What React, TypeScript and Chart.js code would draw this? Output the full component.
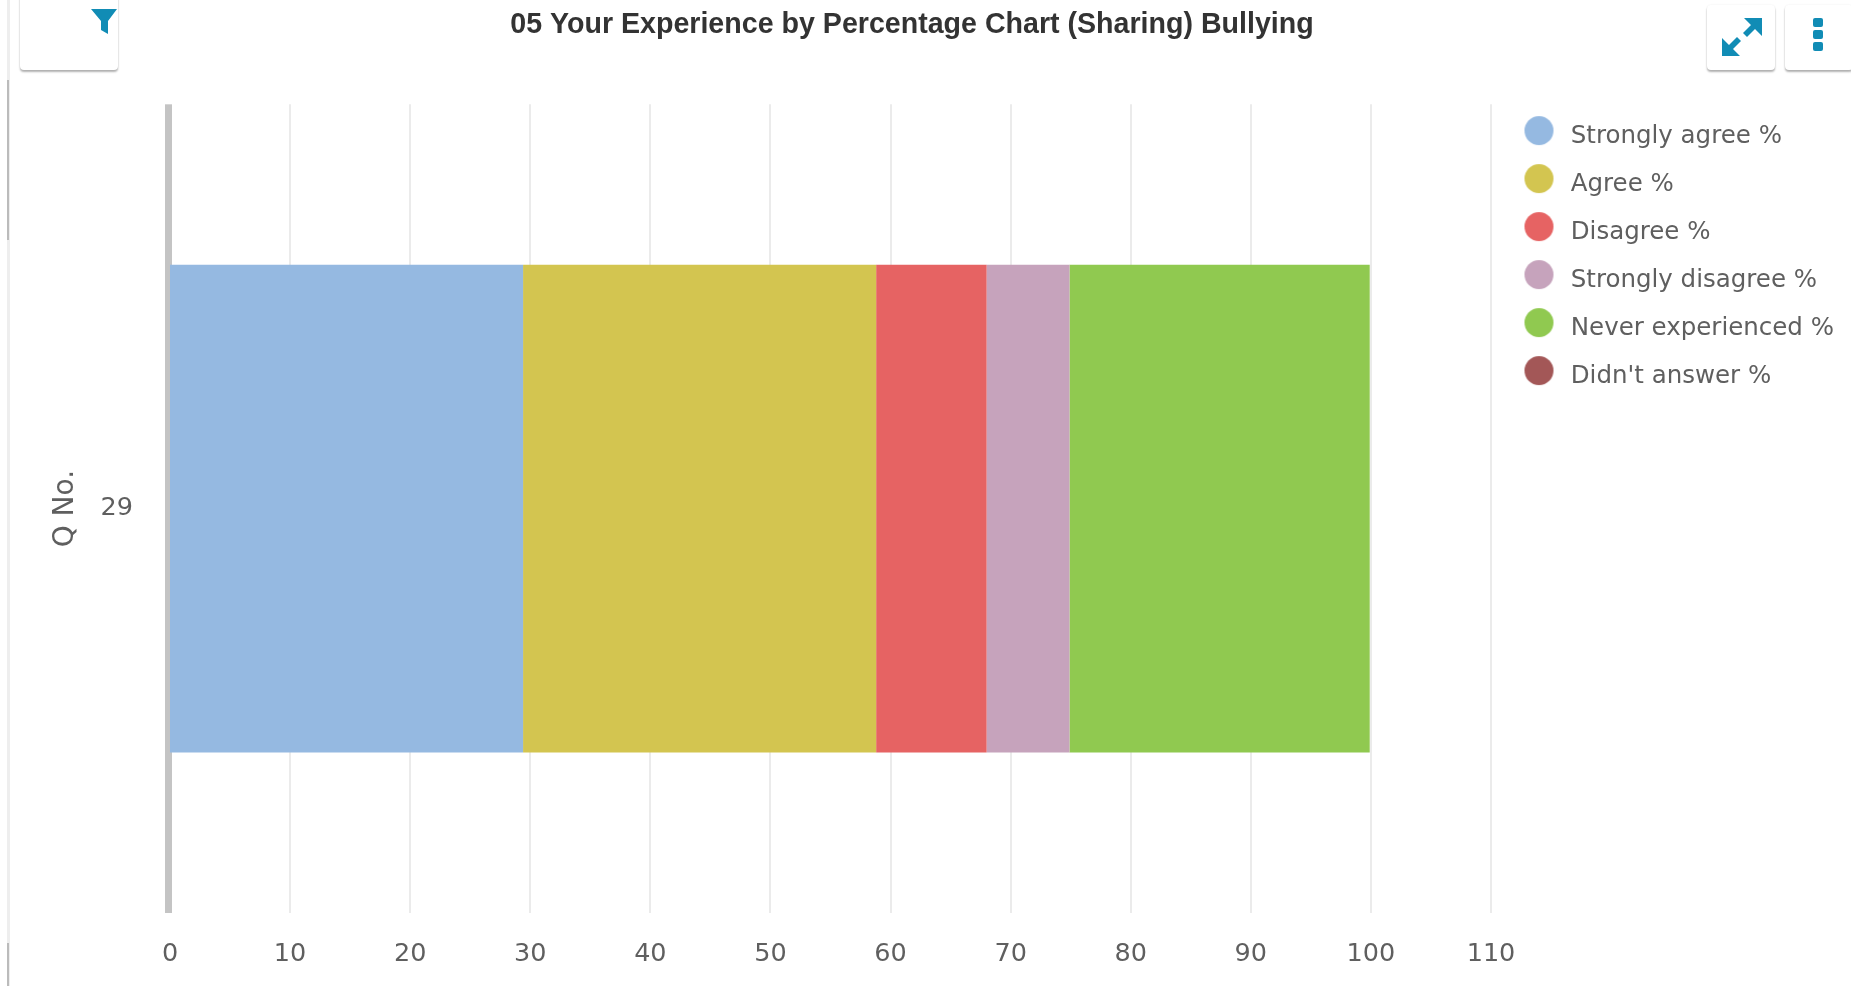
import React, { useEffect, useRef } from "react";
import { Chart, registerables } from "chart.js";

Chart.register(...registerables);

const chartTitle = "05 Your Experience by Percentage Chart (Sharing) Bullying";
const categories = ["29"];
const seriesNames = ["Strongly agree %", "Agree %", "Disagree %", "Strongly disagree %", "Never experienced %", "Didn't answer %"];
const seriesColors = ["#95b9e1", "#d3c550", "#e66363", "#c6a3bc", "#90c950", "#a35757"];
const stronglyAgree = [29.4];
const agree = [29.4];
const disagree = [9.2];
const stronglyDisagree = [6.9];
const neverExperienced = [25.0];
const didntAnswer = [0];
const seriesValues = [stronglyAgree, agree, disagree, stronglyDisagree, neverExperienced, didntAnswer];

const UI_FONT = "'DejaVu Sans'";
const TEXT = "#5f5f5f";
const AXIS_GRAY = "#c4c4c4";
const GRID_GRAY = "#ebebeb";

function marker(color: string) {
  const c = document.createElement("canvas");
  c.width = 60;
  c.height = 60;
  const g = c.getContext("2d")!;
  g.fillStyle = color;
  g.beginPath();
  g.arc(22.5, 23.5, 14.5, 0, Math.PI * 2);
  g.fill();
  return c;
}

const legendPlacer = {
  id: "legendPlacer",
  afterLayout(chart: any) {
    const l = chart.legend;
    if (!l) return;
    const w = l.right - l.left;
    l.left = 1511;
    l.right = l.left + w + 40;
    l.top = chart.chartArea.top - 3;
  },
};

// The thick axis line at value 0, under the bars (a wide grid line would push the bars' base to the right).
const zeroAxis = {
  id: "zeroAxis",
  beforeDatasetsDraw(chart: any) {
    const { ctx, chartArea, scales } = chart;
    const x0 = scales.x.getPixelForValue(0);
    ctx.save();
    ctx.fillStyle = AXIS_GRAY;
    ctx.fillRect(x0 - 5, chartArea.top, 7, chartArea.bottom - chartArea.top);
    ctx.restore();
  },
};

const btn: React.CSSProperties = {
  position: "absolute",
  background: "#fff",
  borderRadius: 4,
  boxShadow: "0 2px 2px rgba(0,0,0,0.3), 0 0 2px rgba(0,0,0,0.08)",
};

export default function App() {
  const ref = useRef<HTMLCanvasElement>(null);
  useEffect(() => {
    const markers = seriesColors.map(marker);
    const chart = new Chart(ref.current!, {
      type: "bar",
      plugins: [legendPlacer, zeroAxis],
      data: {
        labels: categories,
        datasets: seriesNames.map((name, i) => ({
          label: name,
          data: seriesValues[i],
          backgroundColor: seriesColors[i],
          borderWidth: 0,
          barPercentage: 0.603,
          categoryPercentage: 1,
        })),
      },
      options: {
        indexAxis: "y",
        responsive: false,
        animation: false,
        layout: { padding: { left: 0, right: 27, top: 0, bottom: 0 } },
        plugins: {
          tooltip: { enabled: false },
          title: {
            display: true,
            text: chartTitle,
            color: "#333333",
            font: { family: "'Liberation Sans'", size: 28.6, weight: "bold" },
            padding: { top: 8, bottom: 62 },
          },
          legend: {
            position: "right",
            align: "start",
            labels: {
              usePointStyle: true,
              boxHeight: 24,
              boxWidth: 24,
              padding: 23.5,
              color: TEXT,
              font: { family: UI_FONT, size: 24.5 },
              generateLabels: () =>
                seriesNames.map((name, i) => ({
                  text: name,
                  fontColor: TEXT,
                  fillStyle: seriesColors[i],
                  strokeStyle: seriesColors[i],
                  lineWidth: 0,
                  pointStyle: markers[i],
                  datasetIndex: i,
                })),
            },
          },
        },
        scales: {
          x: {
            stacked: true,
            min: 0,
            max: 110,
            afterFit: (s: any) => { s.height = 73; },
            grid: {
              color: GRID_GRAY,
              lineWidth: (c: any) => (c.tick && c.tick.value === 0 ? 0 : 2),
              drawTicks: false,
            },
            border: { display: false },
            ticks: {
              stepSize: 10,
              color: TEXT,
              padding: 26,
              maxRotation: 0,
              font: { family: UI_FONT, size: 25.5 },
            },
          },
          y: {
            stacked: true,
            afterFit: (s: any) => { s.width = 170; },
            grid: { display: false, drawTicks: false },
            border: { display: false },
            ticks: {
              color: TEXT,
              padding: 37,
              font: { family: UI_FONT, size: 25.5 },
            },
            title: {
              display: true,
              text: "Q No.",
              color: TEXT,
              font: { family: UI_FONT, size: 28 },
              padding: { top: 49, bottom: 0 },
            },
          },
        },
      },
    } as any);
    return () => chart.destroy();
  }, []);

  return (
    <div style={{ position: "fixed", inset: 0, overflow: "hidden", background: "#fff" }}>
      <canvas ref={ref} width={1851} height={986} style={{ position: "absolute", left: 0, top: 0, display: "block" }} />
      <div style={{ position: "absolute", left: 7, top: 0, width: 3, height: 986, background: "#eeeeee" }} />
      <div style={{ position: "absolute", left: 7, top: 80, width: 2, height: 160, background: "#bbbbbb" }} />
      <div style={{ position: "absolute", left: 7, top: 943, width: 2, height: 43, background: "#bbbbbb" }} />
      <div style={{ ...btn, left: 20, top: -10, width: 98, height: 80 }} />
      <svg style={{ position: "absolute", left: 90, top: 8 }} width="28" height="28" viewBox="0 0 28 28">
        <path d="M1 1 H27 L18 13 V26 L11 22 V13 Z" fill="#118cb5" />
      </svg>
      <div style={{ ...btn, left: 1707, top: 5, width: 68, height: 65 }} />
      <svg style={{ position: "absolute", left: 1720, top: 16 }} width="44" height="42" viewBox="0 0 44 42">
        <path d="M42 2 V20 L35 13 L27 21 L23 17 L31 9 L24 2 Z M2 40 V22 L9 29 L17 21 L21 25 L13 33 L20 40 Z" fill="#118cb5" />
      </svg>
      <div style={{ ...btn, left: 1785, top: 5, width: 68, height: 65 }} />
      <svg style={{ position: "absolute", left: 1812, top: 17 }} width="12" height="36" viewBox="0 0 12 36">
        <rect x="1" y="1" width="10" height="9" rx="2" fill="#118cb5" />
        <rect x="1" y="13" width="10" height="9" rx="2" fill="#118cb5" />
        <rect x="1" y="25" width="10" height="9" rx="2" fill="#118cb5" />
      </svg>
    </div>
  );
}
